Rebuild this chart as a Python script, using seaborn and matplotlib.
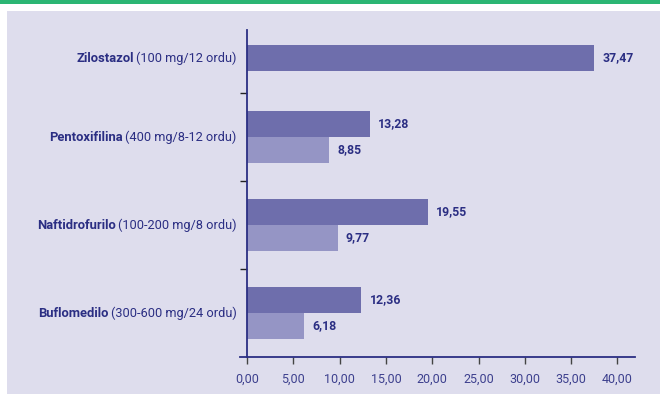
import matplotlib
matplotlib.use("Agg")
import matplotlib.pyplot as plt
from matplotlib.patches import Rectangle
from matplotlib.ticker import FuncFormatter, FixedLocator
import seaborn as sns
import pandas as pd

# ---- data ----
drugs = ["Zilostazol", "Pentoxifilina", "Naftidrofurilo", "Buflomedilo"]
doses = ["(100 mg/12 ordu)", "(400 mg/8-12 ordu)", "(100-200 mg/8 ordu)", "(300-600 mg/24 ordu)"]
series_names = ["A", "B"]
values_a = [37.47, 13.28, 19.55, 12.36]
values_b = [None, 8.85, 9.77, 6.18]
x_ticks = [0, 5, 10, 15, 20, 25, 30, 35, 40]

rows = []
for d, a, b in zip(drugs, values_a, values_b):
    rows.append({"drug": d, "serie": series_names[0], "val": a})
    if b is not None:
        rows.append({"drug": d, "serie": series_names[1], "val": b})
df = pd.DataFrame(rows)

BG = "#dedded"
NAVY = "#2b2e83"
TICKC = "#3d408e"
DARK = "#6e6eac"
LIGHT = "#9595c5"
GREEN = "#2bb673"

sns.set_theme(style="white")
plt.rcParams["font.family"] = ["Roboto", "DejaVu Sans"]

fig = plt.figure(figsize=(6.6, 3.94), dpi=100)
fig.patch.set_facecolor("white")
fig.patches.append(Rectangle((7 / 660, 0), 653 / 660, 383 / 394, transform=fig.transFigure,
                             facecolor=BG, edgecolor="none", zorder=-10))
fig.patches.append(Rectangle((0, 1 - 4 / 394), 1, 4 / 394, transform=fig.transFigure,
                             facecolor=GREEN, edgecolor="none", zorder=-10))

ax = fig.add_axes([240 / 660, 1 - 357 / 394, 395 / 660, 327 / 394])
ax.set_facecolor("none")

sns.barplot(data=df, y="drug", x="val", hue="serie", order=drugs, hue_order=series_names,
            palette=[DARK, LIGHT], orient="h", width=0.59, saturation=1, ax=ax,
            legend=False, errorbar=None, linewidth=0, edgecolor="none")

# Zilostazol (single bar) sits in the lower half of its slot
zpatch = ax.containers[0].patches[0]
zpatch.set_y(zpatch.get_y() + 0.85 * zpatch.get_height())

fmt = lambda v: f"{v:.2f}".replace(".", ",")
ax.bar_label(ax.containers[0], labels=[fmt(v) for v in values_a], padding=6,
             color=NAVY, fontsize=8.8, fontweight="bold")
ax.bar_label(ax.containers[1], labels=[fmt(v) for v in values_b if v is not None], padding=6,
             color=NAVY, fontsize=8.8, fontweight="bold")

ax.set_xlim(-0.76, 41.9)
ax.set_ylim(3.5, -0.216)
ax.set_xlabel("")
ax.set_ylabel("")

for s in ["top", "right"]:
    ax.spines[s].set_visible(False)
for s in ["left", "bottom"]:
    ax.spines[s].set_color(NAVY)
    ax.spines[s].set_linewidth(1.3)
ax.spines["left"].set_position(("data", 0))

ax.set_xticks(x_ticks)
ax.xaxis.set_major_formatter(FuncFormatter(lambda v, p: fmt(v)))
ax.tick_params(axis="x", direction="out", length=5, width=1, color="#444444",
               labelcolor=TICKC, labelsize=9, pad=6, bottom=True)

# y: category labels drawn as text, separator ticks at slot boundaries
ax.set_yticks([])
ax.yaxis.set_minor_locator(FixedLocator([0.5, 1.5, 2.5]))
ax.tick_params(axis="y", which="minor", direction="out", length=5, width=1, color="#222222", left=True)

centers = []
for i, d in enumerate(drugs):
    if i == 0:
        centers.append(zpatch.get_y() + zpatch.get_height() / 2)
    else:
        centers.append(i)

for d, dose, yc in zip(drugs, doses, centers):
    reg = ax.annotate(dose, xy=(0, yc), xycoords="data", xytext=(-7.5, 0),
                      textcoords="offset points", ha="right", va="center",
                      fontsize=9.2, color=NAVY)
    ax.annotate(d, xy=(0, 0), xycoords=reg, xytext=(-1.5, 0), textcoords="offset points",
                ha="right", va="bottom", fontsize=9.4, fontweight="bold", color=NAVY)

fig.savefig("out.png", dpi=100, facecolor="white")
